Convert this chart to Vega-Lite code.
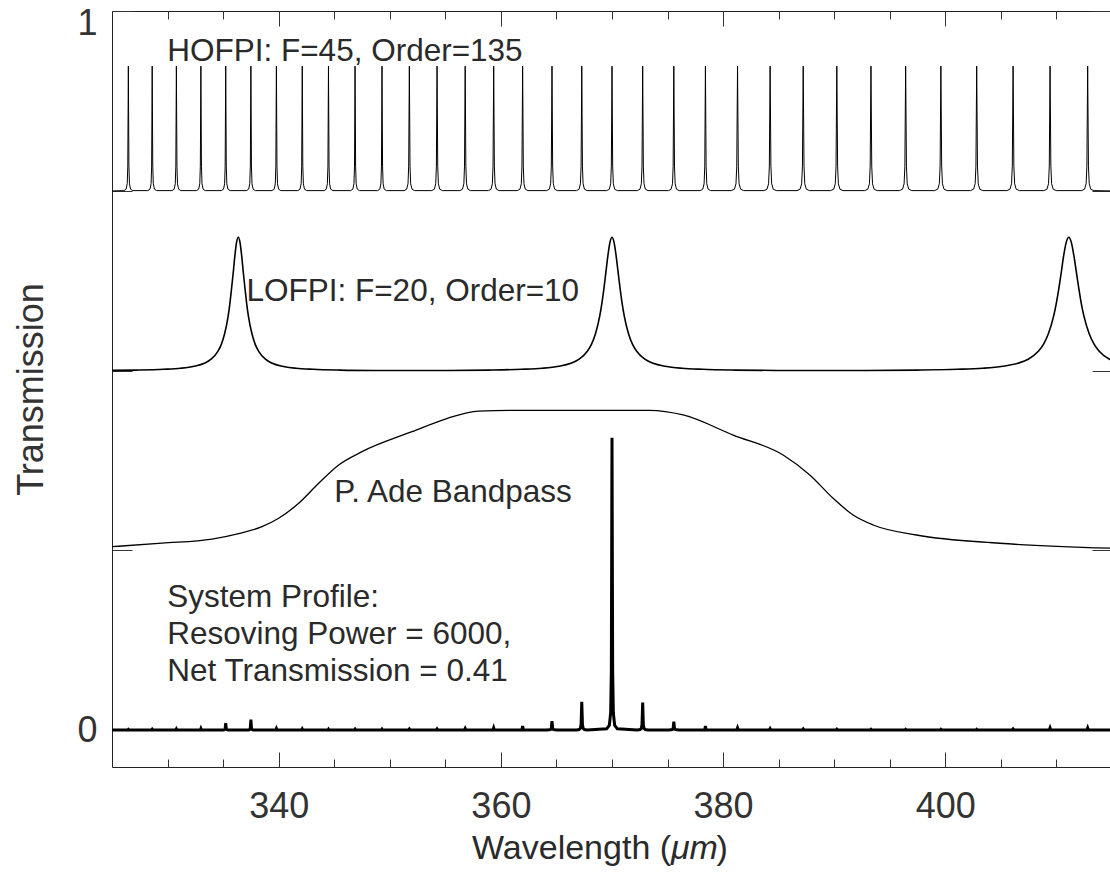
{
"$schema":"https://vega.github.io/schema/vega-lite/v6.json",
"width":1000,"height":756,
"autosize":{"type":"none"},
"padding":{"left":112,"top":11,"right":0,"bottom":111},
"background":"white",
"config":{"view":{"stroke":"#222","strokeWidth":1},"font":"Liberation Sans","axis":{"grid":false,"domain":false,"labelFont":"Liberation Sans","titleFont":"Liberation Sans","labelColor":"#333","tickColor":"#333","titleColor":"#333","tickWidth":1}},
"datasets":{
"hofpi":[{"x":325,"y":0.7635},
{"x":326.071,"y":0.764},{"x":326.271,"y":0.766},{"x":326.371,"y":0.7737},{"x":326.421,"y":0.7987},{"x":326.471,"y":0.9403},{"x":326.521,"y":0.7987},{"x":326.571,"y":0.7737},{"x":326.671,"y":0.766},{"x":326.871,"y":0.764},
{"x":328.218,"y":0.764},{"x":328.418,"y":0.766},{"x":328.518,"y":0.7737},{"x":328.568,"y":0.7987},{"x":328.618,"y":0.9403},{"x":328.668,"y":0.7987},{"x":328.718,"y":0.7737},{"x":328.818,"y":0.766},{"x":329.018,"y":0.764},
{"x":330.395,"y":0.764},{"x":330.595,"y":0.766},{"x":330.695,"y":0.7737},{"x":330.745,"y":0.7987},{"x":330.795,"y":0.9403},{"x":330.845,"y":0.7987},{"x":330.895,"y":0.7737},{"x":330.995,"y":0.766},{"x":331.195,"y":0.764},
{"x":332.6,"y":0.764},{"x":332.8,"y":0.766},{"x":332.9,"y":0.7737},{"x":332.95,"y":0.7987},{"x":333.0,"y":0.9403},{"x":333.05,"y":0.7987},{"x":333.1,"y":0.7737},{"x":333.2,"y":0.766},{"x":333.4,"y":0.764},
{"x":334.835,"y":0.764},{"x":335.035,"y":0.766},{"x":335.135,"y":0.7737},{"x":335.185,"y":0.7987},{"x":335.235,"y":0.9403},{"x":335.285,"y":0.7987},{"x":335.335,"y":0.7737},{"x":335.435,"y":0.766},{"x":335.635,"y":0.764},
{"x":337.1,"y":0.764},{"x":337.3,"y":0.766},{"x":337.4,"y":0.7737},{"x":337.45,"y":0.7987},{"x":337.5,"y":0.9403},{"x":337.55,"y":0.7987},{"x":337.6,"y":0.7737},{"x":337.7,"y":0.766},{"x":337.9,"y":0.764},
{"x":339.396,"y":0.764},{"x":339.596,"y":0.766},{"x":339.696,"y":0.7737},{"x":339.746,"y":0.7987},{"x":339.796,"y":0.9403},{"x":339.846,"y":0.7987},{"x":339.896,"y":0.7737},{"x":339.996,"y":0.766},{"x":340.196,"y":0.764},
{"x":341.723,"y":0.764},{"x":341.923,"y":0.766},{"x":342.023,"y":0.7737},{"x":342.073,"y":0.7987},{"x":342.123,"y":0.9403},{"x":342.173,"y":0.7987},{"x":342.223,"y":0.7737},{"x":342.323,"y":0.766},{"x":342.523,"y":0.764},
{"x":344.083,"y":0.764},{"x":344.283,"y":0.766},{"x":344.383,"y":0.7737},{"x":344.433,"y":0.7987},{"x":344.483,"y":0.9403},{"x":344.533,"y":0.7987},{"x":344.583,"y":0.7737},{"x":344.683,"y":0.766},{"x":344.883,"y":0.764},
{"x":346.475,"y":0.764},{"x":346.675,"y":0.766},{"x":346.775,"y":0.7737},{"x":346.825,"y":0.7987},{"x":346.875,"y":0.9403},{"x":346.925,"y":0.7987},{"x":346.975,"y":0.7737},{"x":347.075,"y":0.766},{"x":347.275,"y":0.764},
{"x":348.901,"y":0.764},{"x":349.101,"y":0.766},{"x":349.201,"y":0.7737},{"x":349.251,"y":0.7987},{"x":349.301,"y":0.9403},{"x":349.351,"y":0.7987},{"x":349.401,"y":0.7737},{"x":349.501,"y":0.766},{"x":349.701,"y":0.764},
{"x":351.281,"y":0.764},{"x":351.521,"y":0.766},{"x":351.641,"y":0.7737},{"x":351.701,"y":0.7987},{"x":351.761,"y":0.9403},{"x":351.821,"y":0.7987},{"x":351.881,"y":0.7737},{"x":352.001,"y":0.766},{"x":352.241,"y":0.764},
{"x":353.775,"y":0.764},{"x":354.015,"y":0.766},{"x":354.135,"y":0.7737},{"x":354.195,"y":0.7987},{"x":354.255,"y":0.9403},{"x":354.315,"y":0.7987},{"x":354.375,"y":0.7737},{"x":354.495,"y":0.766},{"x":354.735,"y":0.764},
{"x":356.306,"y":0.764},{"x":356.546,"y":0.766},{"x":356.666,"y":0.7737},{"x":356.726,"y":0.7987},{"x":356.786,"y":0.9403},{"x":356.846,"y":0.7987},{"x":356.906,"y":0.7737},{"x":357.026,"y":0.766},{"x":357.266,"y":0.764},
{"x":358.873,"y":0.764},{"x":359.113,"y":0.766},{"x":359.233,"y":0.7737},{"x":359.293,"y":0.7987},{"x":359.353,"y":0.9403},{"x":359.413,"y":0.7987},{"x":359.473,"y":0.7737},{"x":359.593,"y":0.766},{"x":359.833,"y":0.764},
{"x":361.477,"y":0.764},{"x":361.717,"y":0.766},{"x":361.837,"y":0.7737},{"x":361.897,"y":0.7987},{"x":361.957,"y":0.9403},{"x":362.017,"y":0.7987},{"x":362.077,"y":0.7737},{"x":362.197,"y":0.766},{"x":362.437,"y":0.764},
{"x":364.119,"y":0.764},{"x":364.359,"y":0.766},{"x":364.479,"y":0.7737},{"x":364.539,"y":0.7987},{"x":364.599,"y":0.9403},{"x":364.659,"y":0.7987},{"x":364.719,"y":0.7737},{"x":364.839,"y":0.766},{"x":365.079,"y":0.764},
{"x":366.799,"y":0.764},{"x":367.039,"y":0.766},{"x":367.159,"y":0.7737},{"x":367.219,"y":0.7987},{"x":367.279,"y":0.9403},{"x":367.339,"y":0.7987},{"x":367.399,"y":0.7737},{"x":367.519,"y":0.766},{"x":367.759,"y":0.764},
{"x":369.52,"y":0.764},{"x":369.76,"y":0.766},{"x":369.88,"y":0.7737},{"x":369.94,"y":0.7987},{"x":370.0,"y":0.9403},{"x":370.06,"y":0.7987},{"x":370.12,"y":0.7737},{"x":370.24,"y":0.766},{"x":370.48,"y":0.764},
{"x":372.281,"y":0.764},{"x":372.521,"y":0.766},{"x":372.641,"y":0.7737},{"x":372.701,"y":0.7987},{"x":372.761,"y":0.9403},{"x":372.821,"y":0.7987},{"x":372.881,"y":0.7737},{"x":373.001,"y":0.766},{"x":373.241,"y":0.764},
{"x":375.084,"y":0.764},{"x":375.324,"y":0.766},{"x":375.444,"y":0.7737},{"x":375.504,"y":0.7987},{"x":375.564,"y":0.9403},{"x":375.624,"y":0.7987},{"x":375.684,"y":0.7737},{"x":375.804,"y":0.766},{"x":376.044,"y":0.764},
{"x":377.929,"y":0.764},{"x":378.169,"y":0.766},{"x":378.289,"y":0.7737},{"x":378.349,"y":0.7987},{"x":378.409,"y":0.9403},{"x":378.469,"y":0.7987},{"x":378.529,"y":0.7737},{"x":378.649,"y":0.766},{"x":378.889,"y":0.764},
{"x":380.738,"y":0.764},{"x":381.018,"y":0.766},{"x":381.158,"y":0.7737},{"x":381.228,"y":0.7987},{"x":381.298,"y":0.9403},{"x":381.368,"y":0.7987},{"x":381.438,"y":0.7737},{"x":381.578,"y":0.766},{"x":381.858,"y":0.764},
{"x":383.671,"y":0.764},{"x":383.951,"y":0.766},{"x":384.091,"y":0.7737},{"x":384.161,"y":0.7987},{"x":384.231,"y":0.9403},{"x":384.301,"y":0.7987},{"x":384.371,"y":0.7737},{"x":384.511,"y":0.766},{"x":384.791,"y":0.764},
{"x":386.649,"y":0.764},{"x":386.929,"y":0.766},{"x":387.069,"y":0.7737},{"x":387.139,"y":0.7987},{"x":387.209,"y":0.9403},{"x":387.279,"y":0.7987},{"x":387.349,"y":0.7737},{"x":387.489,"y":0.766},{"x":387.769,"y":0.764},
{"x":389.674,"y":0.764},{"x":389.954,"y":0.766},{"x":390.094,"y":0.7737},{"x":390.164,"y":0.7987},{"x":390.234,"y":0.9403},{"x":390.304,"y":0.7987},{"x":390.374,"y":0.7737},{"x":390.514,"y":0.766},{"x":390.794,"y":0.764},
{"x":392.747,"y":0.764},{"x":393.027,"y":0.766},{"x":393.167,"y":0.7737},{"x":393.237,"y":0.7987},{"x":393.307,"y":0.9403},{"x":393.377,"y":0.7987},{"x":393.447,"y":0.7737},{"x":393.587,"y":0.766},{"x":393.867,"y":0.764},
{"x":395.869,"y":0.764},{"x":396.149,"y":0.766},{"x":396.289,"y":0.7737},{"x":396.359,"y":0.7987},{"x":396.429,"y":0.9403},{"x":396.499,"y":0.7987},{"x":396.569,"y":0.7737},{"x":396.709,"y":0.766},{"x":396.989,"y":0.764},
{"x":399.04,"y":0.764},{"x":399.32,"y":0.766},{"x":399.46,"y":0.7737},{"x":399.53,"y":0.7987},{"x":399.6,"y":0.9403},{"x":399.67,"y":0.7987},{"x":399.74,"y":0.7737},{"x":399.88,"y":0.766},{"x":400.16,"y":0.764},
{"x":402.263,"y":0.764},{"x":402.543,"y":0.766},{"x":402.683,"y":0.7737},{"x":402.753,"y":0.7987},{"x":402.823,"y":0.9403},{"x":402.893,"y":0.7987},{"x":402.963,"y":0.7737},{"x":403.103,"y":0.766},{"x":403.383,"y":0.764},
{"x":405.538,"y":0.764},{"x":405.818,"y":0.766},{"x":405.958,"y":0.7737},{"x":406.028,"y":0.7987},{"x":406.098,"y":0.9403},{"x":406.168,"y":0.7987},{"x":406.238,"y":0.7737},{"x":406.378,"y":0.766},{"x":406.658,"y":0.764},
{"x":408.866,"y":0.764},{"x":409.146,"y":0.766},{"x":409.286,"y":0.7737},{"x":409.356,"y":0.7987},{"x":409.426,"y":0.9403},{"x":409.496,"y":0.7987},{"x":409.566,"y":0.7737},{"x":409.706,"y":0.766},{"x":409.986,"y":0.764},
{"x":412.25,"y":0.764},{"x":412.53,"y":0.766},{"x":412.67,"y":0.7737},{"x":412.74,"y":0.7987},{"x":412.81,"y":0.9403},{"x":412.88,"y":0.7987},{"x":412.95,"y":0.7737},{"x":413.09,"y":0.766},{"x":413.37,"y":0.764},
{"x":415,"y":0.7635}],
"lofpi":[{"x":325,"y":0.5094},{"x":327.19,"y":0.5098},{"x":329.64,"y":0.5109},{"x":331.17,"y":0.5124},{"x":332.39,"y":0.5152},{"x":333.31,"y":0.5195},{"x":333.92,"y":0.5252},{"x":334.53,"y":0.5364},{"x":334.84,"y":0.5462},{"x":335.14,"y":0.5616},{"x":335.45,"y":0.5859},{"x":335.6,"y":0.603},{"x":335.75,"y":0.6239},{"x":335.91,"y":0.6477},{"x":336.06,"y":0.6718},{"x":336.21,"y":0.6907},{"x":336.364,"y":0.698},{"x":336.52,"y":0.6907},{"x":336.67,"y":0.6718},{"x":336.82,"y":0.6477},{"x":336.98,"y":0.6239},{"x":337.13,"y":0.603},{"x":337.28,"y":0.5859},{"x":337.59,"y":0.5616},{"x":337.89,"y":0.5462},{"x":338.2,"y":0.5364},{"x":338.81,"y":0.5252},{"x":339.42,"y":0.5195},{"x":340.34,"y":0.5152},{"x":341.56,"y":0.5124},{"x":343.09,"y":0.5109},{"x":345.53,"y":0.5098},{"x":348.6,"y":0.5093},{"x":352.38,"y":0.5092},
{"x":355.2,"y":0.5093},{"x":358.9,"y":0.5098},{"x":361.86,"y":0.5109},{"x":363.71,"y":0.5124},{"x":365.19,"y":0.5152},{"x":366.3,"y":0.5195},{"x":367.04,"y":0.5252},{"x":367.78,"y":0.5364},{"x":368.15,"y":0.5462},{"x":368.52,"y":0.5616},{"x":368.89,"y":0.5859},{"x":369.075,"y":0.603},{"x":369.26,"y":0.6239},{"x":369.445,"y":0.6477},{"x":369.63,"y":0.6718},{"x":369.815,"y":0.6907},{"x":370,"y":0.698},{"x":370.185,"y":0.6907},{"x":370.37,"y":0.6718},{"x":370.555,"y":0.6477},{"x":370.74,"y":0.6239},{"x":370.925,"y":0.603},{"x":371.11,"y":0.5859},{"x":371.48,"y":0.5616},{"x":371.85,"y":0.5462},{"x":372.22,"y":0.5364},{"x":372.96,"y":0.5252},{"x":373.7,"y":0.5195},{"x":374.81,"y":0.5152},{"x":376.29,"y":0.5124},{"x":378.14,"y":0.5109},{"x":381.1,"y":0.5098},{"x":384.8,"y":0.5093},{"x":389.47,"y":0.5092},
{"x":392.84,"y":0.5093},{"x":397.41,"y":0.5098},{"x":401.06,"y":0.5109},{"x":403.35,"y":0.5124},{"x":405.17,"y":0.5152},{"x":406.54,"y":0.5195},{"x":407.46,"y":0.5252},{"x":408.37,"y":0.5364},{"x":408.83,"y":0.5462},{"x":409.28,"y":0.5616},{"x":409.74,"y":0.5859},{"x":409.97,"y":0.603},{"x":410.2,"y":0.6239},{"x":410.43,"y":0.6477},{"x":410.65,"y":0.6718},{"x":410.88,"y":0.6907},{"x":411.111,"y":0.698},{"x":411.34,"y":0.6907},{"x":411.57,"y":0.6718},{"x":411.8,"y":0.6477},{"x":412.03,"y":0.6239},{"x":412.25,"y":0.603},{"x":412.48,"y":0.5859},{"x":412.94,"y":0.5616},{"x":413.4,"y":0.5462},{"x":413.85,"y":0.5364},{"x":414.77,"y":0.5252},{"x":415,"y":0.5236}],
"band":[{"x":325,"y":0.2596},{"x":329.5,"y":0.2648},{"x":334.0,"y":0.2705},{"x":336.5,"y":0.2785},{"x":338.5,"y":0.288},{"x":340.0,"y":0.2999},{"x":341.8,"y":0.3211},{"x":343.6,"y":0.3494},{"x":345.4,"y":0.3754},{"x":347.5,"y":0.3942},{"x":352.0,"y":0.4225},{"x":355.0,"y":0.4405},{"x":358.0,"y":0.4518},{"x":361.0,"y":0.4528},{"x":367.0,"y":0.4528},{"x":373.4,"y":0.4528},{"x":376.4,"y":0.4462},{"x":380.9,"y":0.4178},{"x":385.4,"y":0.3895},{"x":387.8,"y":0.3612},{"x":389.9,"y":0.3282},{"x":391.7,"y":0.3045},{"x":393.5,"y":0.2904},{"x":397.4,"y":0.2762},{"x":404.9,"y":0.2645},{"x":415,"y":0.2574}],
"sys":[{"x":325,"y":0},
{"x":326.421,"y":0},{"x":326.471,"y":0.0008},{"x":326.521,"y":0},
{"x":328.568,"y":0},{"x":328.618,"y":0.001},{"x":328.668,"y":0},
{"x":330.745,"y":0},{"x":330.795,"y":0.0015},{"x":330.845,"y":0},
{"x":332.95,"y":0},{"x":333.0,"y":0.002},{"x":333.05,"y":0},
{"x":335.035,"y":0},{"x":335.135,"y":0.0006},{"x":335.185,"y":0.0019},{"x":335.235,"y":0.0096},{"x":335.285,"y":0.0019},{"x":335.335,"y":0.0006},{"x":335.435,"y":0},
{"x":337.3,"y":0},{"x":337.4,"y":0.0009},{"x":337.45,"y":0.003},{"x":337.5,"y":0.0149},{"x":337.55,"y":0.003},{"x":337.6,"y":0.0009},{"x":337.7,"y":0},
{"x":339.746,"y":0},{"x":339.796,"y":0.002},{"x":339.846,"y":0},
{"x":342.073,"y":0},{"x":342.123,"y":0.0015},{"x":342.173,"y":0},
{"x":344.433,"y":0},{"x":344.483,"y":0.0012},{"x":344.533,"y":0},
{"x":346.825,"y":0},{"x":346.875,"y":0.0012},{"x":346.925,"y":0},
{"x":349.251,"y":0},{"x":349.301,"y":0.0012},{"x":349.351,"y":0},
{"x":351.701,"y":0},{"x":351.761,"y":0.0013},{"x":351.821,"y":0},
{"x":354.195,"y":0},{"x":354.255,"y":0.0015},{"x":354.315,"y":0},
{"x":356.726,"y":0},{"x":356.786,"y":0.002},{"x":356.846,"y":0},
{"x":359.293,"y":0},{"x":359.353,"y":0.003},{"x":359.413,"y":0},
{"x":361.897,"y":0},{"x":361.957,"y":0.0055},{"x":362.017,"y":0},
{"x":364.119,"y":0.00005},{"x":364.359,"y":0.0002},{"x":364.479,"y":0.0007},{"x":364.539,"y":0.0025},{"x":364.599,"y":0.0125},{"x":364.659,"y":0.0025},{"x":364.719,"y":0.0007},{"x":364.839,"y":0.0002},{"x":365.079,"y":0.00005},
{"x":366.799,"y":0.00016},{"x":367.039,"y":0.0006},{"x":367.159,"y":0.0024},{"x":367.219,"y":0.008},{"x":367.279,"y":0.04},{"x":367.339,"y":0.008},{"x":367.399,"y":0.0024},{"x":367.519,"y":0.0006},{"x":367.759,"y":0.00016},
{"x":369.52,"y":0.0017},{"x":369.76,"y":0.0064},{"x":369.88,"y":0.0244},{"x":369.94,"y":0.083},{"x":370.0,"y":0.414},{"x":370.06,"y":0.083},{"x":370.12,"y":0.0244},{"x":370.24,"y":0.0064},{"x":370.48,"y":0.0017},
{"x":372.281,"y":0.00016},{"x":372.521,"y":0.0006},{"x":372.641,"y":0.0023},{"x":372.701,"y":0.0078},{"x":372.761,"y":0.039},{"x":372.821,"y":0.0078},{"x":372.881,"y":0.0023},{"x":373.001,"y":0.0006},{"x":373.241,"y":0.00016},
{"x":375.084,"y":0.00005},{"x":375.324,"y":0.0002},{"x":375.444,"y":0.0007},{"x":375.504,"y":0.0024},{"x":375.564,"y":0.0118},{"x":375.624,"y":0.0024},{"x":375.684,"y":0.0007},{"x":375.804,"y":0.0002},{"x":376.044,"y":0.00005},
{"x":378.349,"y":0},{"x":378.409,"y":0.0055},{"x":378.469,"y":0},
{"x":381.228,"y":0},{"x":381.298,"y":0.003},{"x":381.368,"y":0},
{"x":384.161,"y":0},{"x":384.231,"y":0.002},{"x":384.301,"y":0},
{"x":387.139,"y":0},{"x":387.209,"y":0.0015},{"x":387.279,"y":0},
{"x":390.164,"y":0},{"x":390.234,"y":0.0012},{"x":390.304,"y":0},
{"x":393.237,"y":0},{"x":393.307,"y":0.001},{"x":393.377,"y":0},
{"x":396.359,"y":0},{"x":396.429,"y":0.001},{"x":396.499,"y":0},
{"x":399.53,"y":0},{"x":399.6,"y":0.001},{"x":399.67,"y":0},
{"x":402.753,"y":0},{"x":402.823,"y":0.001},{"x":402.893,"y":0},
{"x":406.028,"y":0},{"x":406.098,"y":0.0015},{"x":406.168,"y":0},
{"x":409.356,"y":0},{"x":409.426,"y":0.003},{"x":409.496,"y":0},
{"x":412.74,"y":0},{"x":412.81,"y":0.003},{"x":412.88,"y":0},
{"x":415,"y":0}],
"notes":[{"t":"HOFPI: F=45, Order=135","x":329.97,"y":0.9476},{"t":"LOFPI: F=20, Order=10","x":337.1,"y":0.6076},{"t":"P. Ade Bandpass","x":345.0,"y":0.3234},{"t":"System Profile:","x":329.97,"y":0.1742},{"t":"Resoving Power = 6000,","x":329.97,"y":0.1218},{"t":"Net Transmission = 0.41","x":329.97,"y":0.0698}],
"xtitle":[{"t":"Wavelength (","x":357.4,"y":-0.183},{"t":")","x":379.4,"y":-0.183}],
"xtitleit":[{"t":"μm","x":375.3,"y":-0.183}]
},
"layer":[
{"data":{"name":"hofpi"},"mark":{"type":"line","color":"black","strokeWidth":1},
 "encoding":{
  "x":{"field":"x","type":"quantitative","scale":{"domain":[325,415],"nice":false,"zero":false},"axis":{"orient":"bottom","values":[340,360,380,400],"ticks":false,"labels":true,"labelFontSize":36,"labelPadding":22,"title":null}},
  "y":{"field":"y","type":"quantitative","scale":{"domain":[-0.0524,1.0184],"nice":false,"zero":false},"axis":{"orient":"left","values":[0,1],"ticks":false,"labelFontSize":36,"labelPadding":15,"labelExpr":"datum.value == 0 ? '0' : '1'","title":"Transmission","titleFontSize":36,"titleFontWeight":"normal","titlePadding":26}}}},
{"data":{"name":"lofpi"},"mark":{"type":"line","color":"black","strokeWidth":1.6,"interpolate":"monotone"},
 "encoding":{
  "x":{"field":"x","type":"quantitative","scale":{"domain":[325,415],"nice":false,"zero":false},"axis":{"orient":"bottom","values":[340,360,380,400],"labels":false,"tickSize":-15,"title":null}},
  "y":{"field":"y","type":"quantitative","scale":{"domain":[-0.0524,1.0184],"nice":false,"zero":false},"axis":{"orient":"left","values":[0,0.2546,0.5092,0.7638,1.0184],"labels":false,"tickSize":-20,"title":null}}}},
{"data":{"name":"band"},"mark":{"type":"line","color":"black","strokeWidth":1.3,"interpolate":"monotone"},
 "encoding":{
  "x":{"field":"x","type":"quantitative","scale":{"domain":[325,415],"nice":false,"zero":false},"axis":{"orient":"bottom","values":[330,335,345,350,355,365,370,375,385,390,395,405,410],"labels":false,"tickSize":-8,"title":null}},
  "y":{"field":"y","type":"quantitative","scale":{"domain":[-0.0524,1.0184],"nice":false,"zero":false},"axis":{"orient":"right","values":[0,0.2546,0.5092,0.7638,1.0184],"labels":false,"tickSize":-20,"title":null}}}},
{"data":{"name":"sys"},"mark":{"type":"line","color":"black","strokeWidth":3},
 "encoding":{
  "x":{"field":"x","type":"quantitative","scale":{"domain":[325,415],"nice":false,"zero":false},"axis":{"orient":"top","values":[340,360,380,400],"labels":false,"tickSize":-15,"title":null}},
  "y":{"field":"y","type":"quantitative","scale":{"domain":[-0.0524,1.0184],"nice":false,"zero":false},"axis":null}}},
{"data":{"name":"notes"},"mark":{"type":"text","align":"left","baseline":"alphabetic","fontSize":31.5,"font":"Liberation Sans","color":"#2a2a2a"},
 "encoding":{
  "x":{"field":"x","type":"quantitative","scale":{"domain":[325,415],"nice":false,"zero":false},"axis":{"orient":"top","values":[330,335,345,350,355,365,370,375,385,390,395,405,410],"labels":false,"tickSize":-8,"title":null}},
  "y":{"field":"y","type":"quantitative","scale":{"domain":[-0.0524,1.0184],"nice":false,"zero":false},"axis":null},
  "text":{"field":"t"}}},
{"data":{"name":"xtitle"},"mark":{"type":"text","align":"left","baseline":"alphabetic","fontSize":34,"font":"Liberation Sans","color":"#2a2a2a"},
 "encoding":{
  "x":{"field":"x","type":"quantitative","scale":{"domain":[325,415],"nice":false,"zero":false},"axis":null},
  "y":{"field":"y","type":"quantitative","scale":{"domain":[-0.0524,1.0184],"nice":false,"zero":false},"axis":null},
  "text":{"field":"t"}}},
{"data":{"name":"xtitleit"},"mark":{"type":"text","align":"left","baseline":"alphabetic","fontSize":34,"font":"Liberation Sans","fontStyle":"italic","color":"#2a2a2a"},
 "encoding":{
  "x":{"field":"x","type":"quantitative","scale":{"domain":[325,415],"nice":false,"zero":false},"axis":null},
  "y":{"field":"y","type":"quantitative","scale":{"domain":[-0.0524,1.0184],"nice":false,"zero":false},"axis":null},
  "text":{"field":"t"}}}
],
"resolve":{"axis":{"x":"independent","y":"independent"}}
}
